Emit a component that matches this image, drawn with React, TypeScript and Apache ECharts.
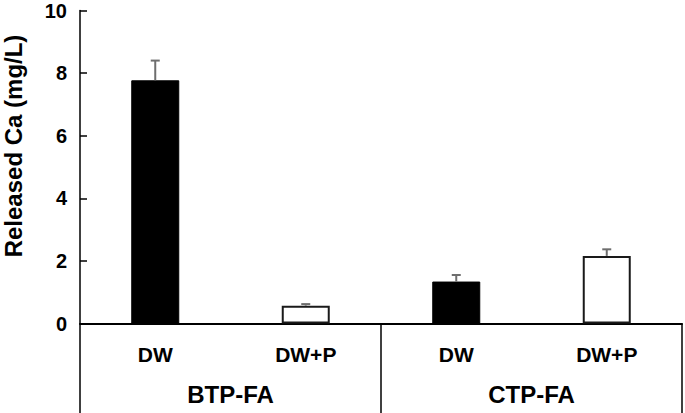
import React, { useEffect, useRef } from "react";
import * as echarts from "echarts";

const categories = ["DW", "DW+P", "DW", "DW+P"];
const groups = ["BTP-FA", "CTP-FA"];
const values = [7.77, 0.57, 1.34, 2.16];
const errors = [0.63, 0.05, 0.21, 0.21];
const filled = [true, false, true, false];
const yTicks = [0, 2, 4, 6, 8, 10];

export default function App() {
  const ref = useRef<HTMLDivElement>(null);
  useEffect(() => {
    if (!ref.current) return;
    const chart = echarts.init(ref.current, null, { renderer: "svg" });
    const font = "'Liberation Sans', Arial, sans-serif";
    chart.setOption({
      animation: false,
      grid: { left: 80, right: 3, top: 10.5, bottom: 89.5, containLabel: false, outerBoundsMode: "none" },
      xAxis: [
        {
          type: "category",
          data: categories,
          position: "bottom",
          axisLine: { show: true, lineStyle: { color: "#000", width: 2 } },
          axisTick: { show: false },
          axisLabel: { margin: 20, fontSize: 21, fontWeight: "bold", color: "#000", fontFamily: font },
        },
        {
          type: "category",
          data: groups,
          position: "bottom",
          axisLine: { show: false },
          axisTick: { show: true, length: 92, interval: 0, lineStyle: { color: "#000", width: 1.5 } },
          axisLabel: { margin: 59, fontSize: 24, fontWeight: "bold", color: "#000", fontFamily: font },
        },
      ],
      yAxis: {
        type: "value",
        min: 0,
        max: 10,
        interval: 2,
        name: "Released Ca (mg/L)",
        nameLocation: "middle",
        nameGap: 55,
        nameTextStyle: {
          fontSize: 24,
          fontWeight: "bold",
          color: "#000",
          fontFamily: font,
          padding: [0, 0, 0, 42],
        },
        axisLine: { show: true, lineStyle: { color: "#000", width: 1.5 } },
        axisTick: { show: true, inside: true, length: 7, lineStyle: { color: "#000", width: 1.5 } },
        splitLine: { show: false },
        axisLabel: {
          margin: 13,
          fontSize: 20,
          fontWeight: "bold",
          color: "#000",
          fontFamily: font,
          formatter: (v: number) => (yTicks.includes(v) ? String(v) : ""),
        },
      },
      series: [
        {
          type: "bar",
          xAxisIndex: 0,
          barWidth: 48,
          data: values.map((v, i) => ({
            value: v,
            itemStyle: filled[i]
              ? { color: "#000", borderColor: "#000", borderWidth: 1 }
              : { color: "#fff", borderColor: "#1a1a1a", borderWidth: 2 },
          })),
          z: 2,
        },
        {
          type: "custom",
          xAxisIndex: 0,
          z: 3,
          data: values.map((v, i) => [i, v, v + errors[i]]),
          renderItem: (params: any, api: any) => {
            const x = api.value(0);
            const base = api.coord([x, api.value(1)]);
            const top = api.coord([x, api.value(2)]);
            const cap = 4.5;
            const style = { stroke: "#6e6e6e", lineWidth: 2 };
            return {
              type: "group",
              children: [
                { type: "line", shape: { x1: base[0], y1: base[1], x2: top[0], y2: top[1] }, style },
                { type: "line", shape: { x1: top[0] - cap, y1: top[1], x2: top[0] + cap, y2: top[1] }, style },
              ],
            };
          },
        },
      ],
    });
    return () => chart.dispose();
  }, []);
  return <div ref={ref} style={{ width: 685, height: 413, position: "absolute", left: 0, top: 0 }} />;
}
